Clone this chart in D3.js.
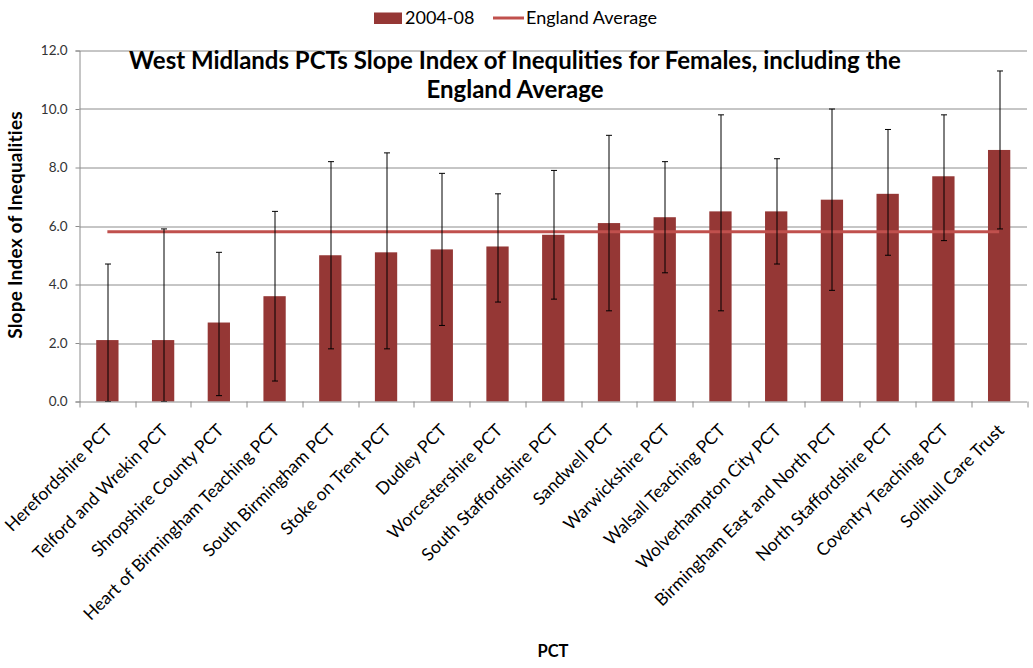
<!DOCTYPE html>
<html>
<head>
<meta charset="utf-8">
<script src="https://cdn.jsdelivr.net/npm/d3@7/dist/d3.min.js"></script>
<style>
  body { margin: 0; background: #fff; }
  text { font-family: Lato, "Open Sans", sans-serif; }
</style>
</head>
<body>
<div id="chart-area"></div>
<script>
// PCTs, sorted by slope index value
var categories = [
    "Herefordshire PCT", "Telford and Wrekin PCT", "Shropshire County PCT",
    "Heart of Birmingham Teaching PCT", "South Birmingham PCT", "Stoke on Trent PCT",
    "Dudley PCT", "Worcestershire PCT", "South Staffordshire PCT", "Sandwell PCT",
    "Warwickshire PCT", "Walsall Teaching PCT", "Wolverhampton City PCT",
    "Birmingham East and North PCT", "North Staffordshire PCT", "Coventry Teaching PCT",
    "Solihull Care Trust"
];
var values = [2.1, 2.1, 2.7, 3.6, 5.0, 5.1, 5.2, 5.3, 5.7, 6.1, 6.3, 6.5, 6.5, 6.9, 7.1, 7.7, 8.6];
var lowerCI = [0.0, 0.0, 0.2, 0.7, 1.8, 1.8, 2.6, 3.4, 3.5, 3.1, 4.4, 3.1, 4.7, 3.8, 5.0, 5.5, 5.9];
var upperCI = [4.7, 5.9, 5.1, 6.5, 8.2, 8.5, 7.8, 7.1, 7.9, 9.1, 8.2, 9.8, 8.3, 10.0, 9.3, 9.8, 11.3];
var englandAverage = 5.8;
var yTicks = [0, 2, 4, 6, 8, 10, 12];

var width = 1033;
var height = 668;
var margin = { top: 50.5, right: 6, bottom: 266.5, left: 79.5 };
var innerW = width - margin.left - margin.right;
var innerH = height - margin.top - margin.bottom;

var barColor = "#953735";
var lineColor = "#c0504d";
var gridColor = "#8c8c8c";

var svg = d3.select("#chart-area")
    .append("svg")
    .attr("width", width)
    .attr("height", height);

var g = svg.append("g")
    .attr("transform", "translate(" + margin.left + "," + margin.top + ")");

var x = d3.scaleBand()
    .domain(categories)
    .range([0, innerW])
    .paddingInner(0.6)
    .paddingOuter(0.3);

var y = d3.scaleLinear()
    .domain([0, 12])
    .range([innerH, 0]);

// gridlines
g.append("g")
    .attr("class", "grid")
    .selectAll("line")
    .data(yTicks.slice(1))
    .enter()
    .append("line")
        .attr("x1", 0)
        .attr("x2", innerW)
        .attr("y1", function(d) { return Math.round(y(d)) + 0.5; })
        .attr("y2", function(d) { return Math.round(y(d)) + 0.5; })
        .attr("stroke", gridColor)
        .attr("stroke-width", 1);

// y axis
var yAxisCall = d3.axisLeft(y)
    .tickValues(yTicks)
    .tickSize(4)
    .tickPadding(8)
    .tickFormat(d3.format(".1f"));
var yAxisGroup = g.append("g")
    .attr("class", "y axis")
    .call(yAxisCall);
yAxisGroup.select(".domain").attr("stroke", gridColor);
yAxisGroup.selectAll(".tick line").attr("stroke", gridColor);
yAxisGroup.selectAll(".tick text")
    .attr("font-size", "13.5px")
    .attr("fill", "#333");

// bars
g.selectAll("rect.bar")
    .data(values)
    .enter()
    .append("rect")
        .attr("class", "bar")
        .attr("x", function(d, i) { return x(categories[i]); })
        .attr("width", x.bandwidth())
        .attr("y", function(d) { return y(d); })
        .attr("height", function(d) { return innerH - y(d); })
        .attr("fill", barColor);

// England average line, from first to last category centre
var half = x.bandwidth() / 2;
g.append("line")
    .attr("x1", x(categories[0]) + half)
    .attr("x2", x(categories[categories.length - 1]) + half)
    .attr("y1", y(englandAverage))
    .attr("y2", y(englandAverage))
    .attr("stroke", lineColor)
    .attr("stroke-width", 3);

// error bars
var errG = g.append("g").attr("class", "errors");
categories.forEach(function(c, i) {
    var cx = Math.round(x(c) + half) + 0.5;
    errG.append("line")
        .attr("x1", cx).attr("x2", cx)
        .attr("y1", y(lowerCI[i])).attr("y2", y(upperCI[i]))
        .attr("stroke", "#000").attr("stroke-width", 1);
    [lowerCI[i], upperCI[i]].forEach(function(v) {
        errG.append("line")
            .attr("x1", cx - 3).attr("x2", cx + 3)
            .attr("y1", y(v)).attr("y2", y(v))
            .attr("stroke", "#000").attr("stroke-width", 1);
    });
});

// x axis
var x2 = d3.scaleBand().domain(categories).range([0, innerW]);
var xAxisGroup = g.append("g")
    .attr("class", "x axis")
    .attr("transform", "translate(0," + innerH + ")");
xAxisGroup.append("line")
    .attr("x1", 0).attr("x2", innerW)
    .attr("y1", 0.5).attr("y2", 0.5)
    .attr("stroke", gridColor);
xAxisGroup.selectAll("line.tick")
    .data(categories.concat([null]))
    .enter()
    .append("line")
        .attr("class", "tick")
        .attr("x1", function(d, i) { return Math.round(i * x2.step()) + 0.5; })
        .attr("x2", function(d, i) { return Math.round(i * x2.step()) + 0.5; })
        .attr("y1", 0)
        .attr("y2", 6)
        .attr("stroke", gridColor);
xAxisGroup.selectAll("text.label")
    .data(categories)
    .enter()
    .append("text")
        .attr("class", "label")
        .attr("text-anchor", "end")
        .attr("font-size", "17.5px")
        .attr("fill", "#000")
        .attr("transform", function(d) {
            return "translate(" + (x(d) + half + 6) + ",30) rotate(-45)";
        })
        .text(function(d) { return d; });

// axis titles
g.append("text")
    .attr("x", -(innerH / 2) + 1)
    .attr("y", -58)
    .attr("transform", "rotate(-90)")
    .attr("text-anchor", "middle")
    .attr("font-size", "19px")
    .attr("letter-spacing", "0.2px")
    .attr("font-weight", "bold")
    .text("Slope Index of Inequalities");

svg.append("text")
    .attr("x", 553)
    .attr("y", 657)
    .attr("text-anchor", "middle")
    .attr("font-size", "16.5px")
    .attr("font-weight", "bold")
    .text("PCT");

// chart title
var title = svg.append("text")
    .attr("text-anchor", "middle")
    .attr("font-size", "24px")
    .attr("font-weight", "bold");
title.append("tspan").attr("x", 515).attr("y", 69)
    .text("West Midlands PCTs Slope Index of Inequlities for Females, including the");
title.append("tspan").attr("x", 515).attr("y", 98)
    .text("England Average");

// legend
var legend = svg.append("g").attr("class", "legend");
legend.append("rect")
    .attr("x", 374).attr("y", 12.5)
    .attr("width", 28).attr("height", 11.5)
    .attr("fill", barColor);
legend.append("text")
    .attr("x", 405).attr("y", 24)
    .attr("font-size", "18px")
    .text("2004-08");
legend.append("line")
    .attr("x1", 493).attr("x2", 524)
    .attr("y1", 18).attr("y2", 18)
    .attr("stroke", lineColor)
    .attr("stroke-width", 3);
legend.append("text")
    .attr("x", 526).attr("y", 24)
    .attr("font-size", "18px")
    .text("England Average");
</script>
</body>
</html>
